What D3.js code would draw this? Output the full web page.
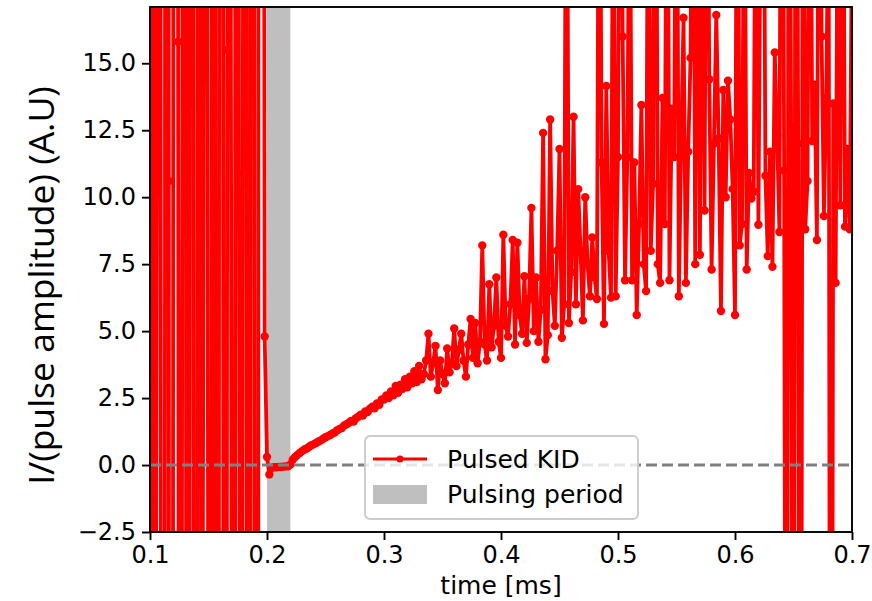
<!DOCTYPE html>
<html>
<head>
<meta charset="utf-8">
<script src="https://cdn.jsdelivr.net/npm/d3@7"></script>
<style>
  body { margin: 0; background: #fff; }
  svg { display: block; }
  text { font-family: "DejaVu Sans", sans-serif; }
</style>
</head>
<body>
<div id="chart"></div>
<script>
'use strict';

// normalised signal, one sample every 2 us starting at 0.1 ms
const signal = [
	-40, 90, -30, 13.3, 100, -60, -120, 200, 10.6, -150,
	25, 120, 15.8, -80, 36, 140, -190, 29, 110, -62,
	-130, 320, -28, 14.5, 75, -22, -90, 150, -9, -100,
	115, 60, -117, 15.5, 50, -11, -130, 210, 10.9, -40,
	38, 130, -280, 39, 95, -52, -140, 350, 80, 4.8,
	0.3, -0.35, -0.1, -0.08, -0.08, -0.07, -0.07, -0.06, -0.05, -0.05,
	0.02, 0.2, 0.3, 0.38, 0.45, 0.52, 0.58, 0.62, 0.68, 0.74,
	0.78, 0.82, 0.88, 0.92, 0.98, 1.04, 1.08, 1.12, 1.18, 1.22,
	1.3, 1.35, 1.38, 1.48, 1.52, 1.58, 1.65, 1.62, 1.75, 1.8,
	1.88, 1.85, 2.0, 1.98, 2.1, 2.18, 2.12, 2.3, 2.25, 2.45,
	2.45, 2.6, 2.5, 2.75, 2.6, 2.95, 2.7, 3.0, 2.85, 3.2,
	2.9, 3.3, 3.05, 3.5, 3.1, 3.7, 3.2, 3.4, 3.9, 4.9,
	3.3, 3.8, 4.45, 2.8, 3.9, 3.4, 3.05, 4.35, 3.46, 3.8,
	5.1, 3.7, 4.3, 4.9, 3.9, 3.3, 4.5, 5.45, 4.0, 5.3,
	3.8, 4.6, 8.2, 4.5, 3.9, 6.75, 4.4, 5.2, 7.0, 4.6,
	4.0, 8.6, 5.2, 4.8, 6.0, 8.4, 4.5, 8.3, 5.6, 4.9,
	7.05, 4.56, 6.2, 9.6, 5.0, 7.0, 4.6, 5.8, 12.4, 3.95,
	4.85, 12.9, 6.5, 5.2, 8.0, 11.8, 4.75, 6.0, 30, 5.3,
	7.2, 13.0, 6.0, 10.3, 8.0, 5.4, 10.0, 7.5, 6.3, 8.5,
	7.0, 6.2, 30, 11.3, 5.27, 14.15, 8.0, 6.25, 25, 6.3,
	11.5, 30, 16.0, 6.9, 11.5, 25, 6.9, 11.3, 5.6, 9.0,
	13.44, 7.5, 6.5, 28, 8.0, 10.5, 35, 7.5, 6.8, 13.7,
	9.0, 30, 6.9, 13.3, 11.5, 30, 6.3, 12.0, 16.7, 6.8,
	11.7, 15.2, 30, 7.5, 28, 7.85, 25, 9.5, 30, 14.4,
	7.3, 12.0, 16.8, 12.2, 5.75, 14.0, 10.0, 14.35, 12.9, 10.3,
	5.6, 30, 8.2, 9.0, 25, 7.3, 10.9, 9.95, 10.2, 28,
	8.97, 22, 30, 10.8, 7.8, 11.7, 7.4, 15.4, 12.3, 8.7,
	40, 11.0, -35, 35, 12, -30, 40, 12.0, -35, 30,
	8.8, 10.6, 30, 12.1, 14.2, 8.4, 30, 16.0, 9.3, 13.7,
	22, -40, 13.5, 6.8, 25, 9.7, 30, 8.9, 11.8, 8.8,
	20
];
const startTime = 0.1;
const sampleStep = 0.002;

const pulsePeriod = [0.2, 0.22];
const xTicks = [0.1, 0.2, 0.3, 0.4, 0.5, 0.6, 0.7];
const yTicks = [-2.5, 0, 2.5, 5, 7.5, 10, 12.5, 15];
const legendLabels = ["Pulsed KID", "Pulsing period"];

const width = 872;
const height = 601;
const margin = { top: 7, right: 20, bottom: 69, left: 150 };
const innerW = width - margin.left - margin.right;
const innerH = height - margin.top - margin.bottom;

const points = signal.map((v, i) => ({ t: startTime + i * sampleStep, v: v }));

const svg = d3.select("#chart")
	.append("svg")
	.attr("width", width)
	.attr("height", height);

const x = d3.scaleLinear().domain([0.1, 0.7]).range([0, innerW]);
const y = d3.scaleLinear().domain([-2.5, 17.1]).range([innerH, 0]);

svg.append("defs").append("clipPath")
	.attr("id", "plot-clip")
	.append("rect")
	.attr("width", innerW)
	.attr("height", innerH);

const g = svg.append("g")
	.attr("transform", `translate(${margin.left},${margin.top})`);

const plot = g.append("g").attr("clip-path", "url(#plot-clip)");

// pulsing period
plot.append("rect")
	.attr("x", x(pulsePeriod[0]))
	.attr("y", 0)
	.attr("width", x(pulsePeriod[1]) - x(pulsePeriod[0]))
	.attr("height", innerH)
	.attr("fill", "#bfbfbf");

const line = d3.line()
	.x(d => x(d.t))
	.y(d => y(d.v));

plot.append("path")
	.datum(points)
	.attr("d", line)
	.attr("fill", "none")
	.attr("stroke", "#ff0000")
	.attr("stroke-width", 3.8)
	.attr("stroke-linejoin", "round");

plot.append("g")
	.selectAll("circle")
	.data(points)
	.enter().append("circle")
	.attr("cx", d => x(d.t))
	.attr("cy", d => y(d.v))
	.attr("r", 4.2)
	.attr("fill", "#ff0000");

// zero reference
plot.append("line")
	.attr("x1", 0)
	.attr("x2", innerW)
	.attr("y1", y(0))
	.attr("y2", y(0))
	.attr("stroke", "#808080")
	.attr("stroke-width", 3)
	.attr("stroke-dasharray", "11,5");

// axes
const fontSize = "24px";

const xAxis = g.append("g")
	.attr("transform", `translate(0,${innerH})`)
	.call(d3.axisBottom(x).tickValues(xTicks).tickFormat(d3.format(".1f"))
		.tickSize(8).tickPadding(6).tickSizeOuter(0));

const yAxis = g.append("g")
	.call(d3.axisLeft(y).tickValues(yTicks).tickFormat(d3.format(".1f"))
		.tickSize(8).tickPadding(6).tickSizeOuter(0));

[xAxis, yAxis].forEach(a => {
	a.select(".domain").remove();
	a.selectAll(".tick line").attr("stroke", "#000").attr("stroke-width", 1.9);
	a.selectAll(".tick text")
		.attr("fill", "#000")
		.style("font-family", "'DejaVu Sans', sans-serif")
		.style("font-size", fontSize);
});

g.append("rect")
	.attr("width", innerW)
	.attr("height", innerH)
	.attr("fill", "none")
	.attr("stroke", "#000")
	.attr("stroke-width", 1.9);

g.append("text")
	.attr("x", innerW / 2)
	.attr("y", innerH + 62)
	.attr("text-anchor", "middle")
	.style("font-size", "25px")
	.text("time [ms]");

g.append("text")
	.attr("transform", `translate(${-96},${innerH / 2 + 16}) rotate(-90)`)
	.attr("text-anchor", "middle")
	.style("font-family", "'Open Sans', sans-serif")
	.style("font-size", "35.5px")
	.text("I/(pulse amplitude) (A.U)");

// legend
const legend = g.append("g")
	.attr("transform", `translate(${365 - margin.left},${436 - margin.top})`);

legend.append("rect")
	.attr("width", 273)
	.attr("height", 83)
	.attr("rx", 5)
	.attr("fill", "#fff")
	.attr("fill-opacity", 0.8)
	.attr("stroke", "#cccccc")
	.attr("stroke-width", 1.9);

legend.append("line")
	.attr("x1", 8).attr("x2", 62)
	.attr("y1", 23).attr("y2", 23)
	.attr("stroke", "#ff0000")
	.attr("stroke-width", 3.2);

legend.append("circle")
	.attr("cx", 35).attr("cy", 23)
	.attr("r", 3.6)
	.attr("fill", "#ff0000");

legend.append("rect")
	.attr("x", 8).attr("y", 49)
	.attr("width", 54).attr("height", 19)
	.attr("fill", "#bfbfbf");

legend.selectAll("text.label")
	.data(legendLabels)
	.enter().append("text")
	.attr("class", "label")
	.attr("x", 82)
	.attr("y", (d, i) => 23 + i * 35)
	.attr("dy", "0.36em")
	.style("font-size", "25px")
	.text(d => d);
</script>
</body>
</html>
